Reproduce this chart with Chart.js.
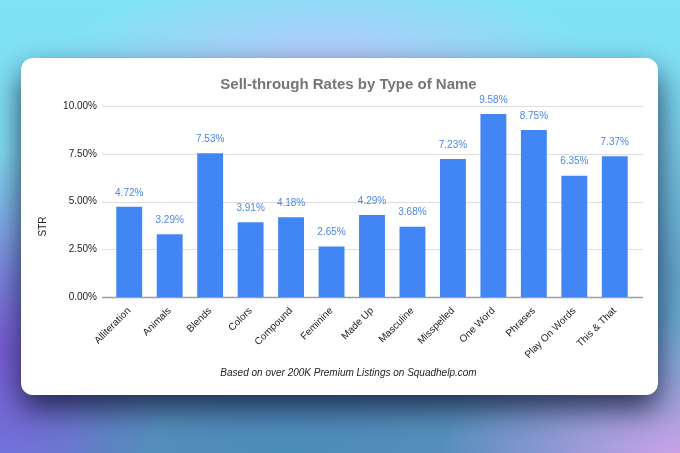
<!DOCTYPE html>
<html>
<head>
<meta charset="utf-8">
<script src="https://cdn.jsdelivr.net/npm/chart.js@4.4.1/dist/chart.umd.min.js"></script>
<style>
  html, body { margin: 0; padding: 0; }
  body {
    width: 680px; height: 453px; overflow: hidden; position: relative;
    background:
      radial-gradient(ellipse 35% 30% at 100% 100%, #c9a2e8 0%, rgba(201,162,232,0) 100%),
      radial-gradient(ellipse 25% 45% at 0% 78%, #7b5ad8 0%, rgba(123,90,216,0) 100%),
      radial-gradient(ellipse 15% 20% at 0% 100%, #6b8ae0 0%, rgba(107,138,224,0) 100%),
      radial-gradient(ellipse 50% 35% at 42% 100%, #4c8cba 0%, rgba(76,140,186,0) 100%),
      radial-gradient(ellipse 25% 50% at 100% 62%, #67a6cc 0%, rgba(103,166,204,0) 100%),
      radial-gradient(ellipse 40% 22% at 48% 16%, #bcc6fa 0%, rgba(188,198,250,0) 100%),
      linear-gradient(180deg, #80e2f7 0%, #84dcf0 50%, #5e8fc0 100%);
  }
  .card {
    position: absolute; left: 21px; top: 58px; width: 637px; height: 337px;
    background: #fff; border-radius: 12px;
    box-shadow: 0 14px 30px rgba(15,20,50,0.8);
    overflow: hidden;
  }
  canvas { display: block; }
</style>
</head>
<body>
<div class="card"><canvas id="chart1" width="637" height="337"></canvas></div>
<script>
var categories = ['Alliteration', 'Animals', 'Blends', 'Colors', 'Compound', 'Feminine', 'Made Up',
  'Masculine', 'Misspelled', 'One Word', 'Phrases', 'Play On Words', 'This & That'];
var strValues = [4.72, 3.29, 7.53, 3.91, 4.18, 2.65, 4.29, 3.68, 7.23, 9.58, 8.75, 6.35, 7.37];
var yTicks = [0, 2.5, 5, 7.5, 10];

var fontFamily = '"Liberation Sans", Arial, sans-serif';

// value labels above each bar
var barLabels = {
	id: 'barLabels',
	afterDatasetsDraw: function(chart) {
		var ctx = chart.ctx;
		var meta = chart.getDatasetMeta(0);
		ctx.save();
		ctx.font = '10px ' + fontFamily;
		ctx.fillStyle = '#4a86e8';
		ctx.textAlign = 'center';
		ctx.textBaseline = 'bottom';
		meta.data.forEach(function(bar, i) {
			ctx.fillText(strValues[i].toFixed(2) + '%', bar.x, bar.y - 9);
		});
		ctx.restore();
	}
};

// gridlines run a little past the bars on both sides, plus the "STR" axis name
var wideGrid = {
	id: 'wideGrid',
	beforeDatasetsDraw: function(chart) {
		var ctx = chart.ctx, area = chart.chartArea, y = chart.scales.y;
		ctx.save();
		yTicks.forEach(function(v) {
			var py = Math.round(y.getPixelForValue(v)) + 0.5;
			ctx.strokeStyle = v === 0 ? '#9e9e9e' : '#dedede';
			ctx.lineWidth = v === 0 ? 1.5 : 1;
			ctx.beginPath();
			ctx.moveTo(area.left - 7, py);
			ctx.lineTo(area.right + 8, py);
			ctx.stroke();
		});
		ctx.translate(22, chart.height / 2);
		ctx.rotate(-Math.PI / 2);
		ctx.font = '10px ' + fontFamily;
		ctx.fillStyle = '#222';
		ctx.textAlign = 'center';
		ctx.textBaseline = 'middle';
		ctx.fillText('STR', 0, 0);
		ctx.restore();
	}
};

var ctx = document.getElementById('chart1').getContext('2d');
var chart1 = new Chart(ctx, {
	type: 'bar',
	data: {
		labels: categories,
		datasets: [{
			data: strValues,
			backgroundColor: '#4285f4',
			borderWidth: 0,
			categoryPercentage: 1,
			barPercentage: 0.64
		}]
	},
	options: {
		responsive: false,
		animation: false,
		layout: { padding: { left: 41, right: 23, top: 0, bottom: 16 } },
		plugins: {
			legend: { display: false },
			tooltip: { enabled: false },
			title: {
				display: true,
				text: 'Sell-through Rates by Type of Name',
				color: '#757575',
				font: { family: fontFamily, size: 15, weight: 'bold' },
				padding: { top: 18, bottom: 12 }
			},
			subtitle: {
				display: true,
				position: 'bottom',
				text: 'Based on over 200K Premium Listings on Squadhelp.com',
				color: '#222',
				font: { family: fontFamily, size: 10, style: 'italic' },
				padding: { top: 4, bottom: 0 }
			}
		},
		scales: {
			x: {
				grid: { display: false },
				border: { display: false },
				afterFit: function(axis) { axis.height = 66; },
				ticks: {
					color: '#222',
					font: { family: fontFamily, size: 10 },
					maxRotation: 45,
					minRotation: 45,
					padding: 0
				}
			},
			y: {
				min: 0,
				max: 10,
				afterBuildTicks: function(axis) {
					axis.ticks = yTicks.map(function(v) { return { value: v }; });
				},
				afterFit: function(axis) { axis.width = 47; },
				grid: { display: false, drawTicks: false },
				border: { display: false },
				ticks: {
					color: '#222',
					font: { family: fontFamily, size: 10 },
					padding: 12,
					callback: function(v) { return v.toFixed(2) + '%'; }
				}
			}
		}
	},
	plugins: [wideGrid, barLabels]
});
</script>
</body>
</html>
